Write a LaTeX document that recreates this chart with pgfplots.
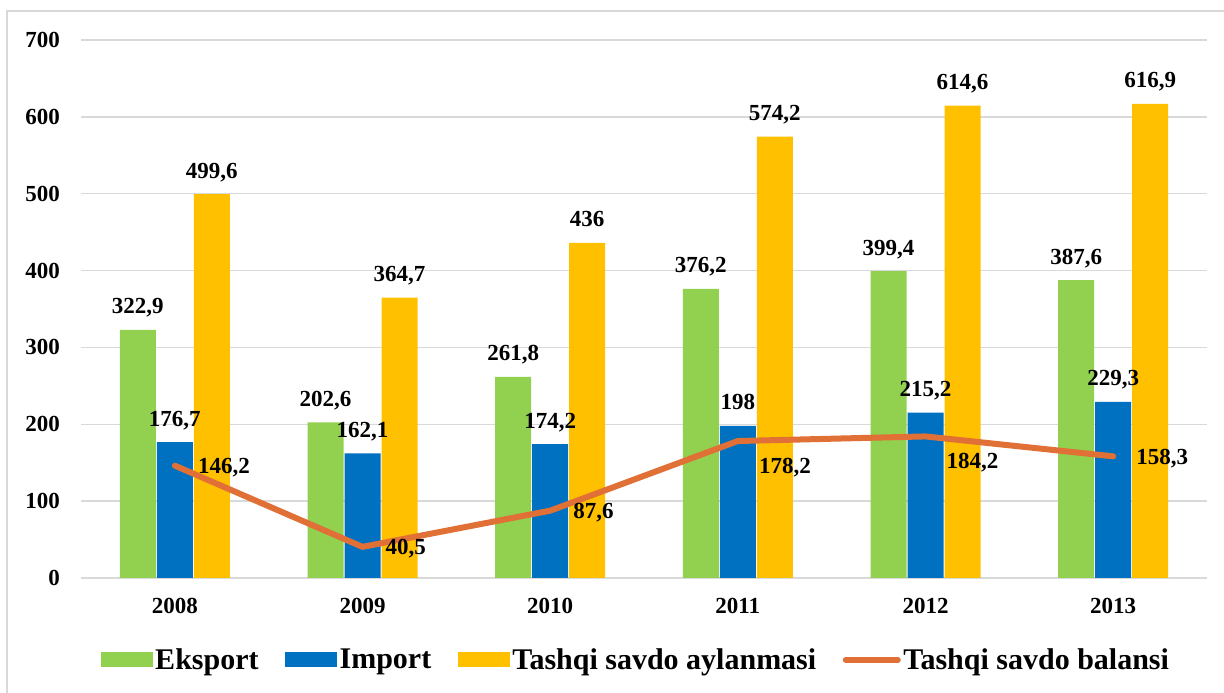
\documentclass[border=0pt]{standalone}
\usepackage{fontspec}
\setmainfont{Liberation Serif}
\usepackage{pgfplots}
\pgfplotsset{compat=1.18}
\definecolor{cgreen}{HTML}{92D050}
\definecolor{cblue}{HTML}{0070C0}
\definecolor{cyellow}{HTML}{FFC000}
\definecolor{corange}{HTML}{E07036}
\definecolor{cgrid}{HTML}{D9D9D9}
\begin{document}
\begin{tikzpicture}[x=1bp,y=1bp]
\useasboundingbox (0,0) rectangle (1224,693);
\draw[cgrid, line width=1.5bp] (7,0) -- (7,682) -- (1224,682);
\begin{axis}[
  at={(81bp,115bp)}, anchor=south west,
  width=1126bp, height=538bp, scale only axis,
  xmin=-0.5, xmax=5.5, ymin=0, ymax=700,
  xtick={0,1,2,3,4,5}, xticklabels={2008,2009,2010,2011,2012,2013},
  ytick={0,100,...,700},
  axis line style={draw=none},
  ymajorgrids, grid style={cgrid, line width=1.5bp},
  major tick length=0pt,
  /pgf/number format/.cd, use comma, fixed, precision=1, assume math mode=true, 1000 sep={},
  /pgfplots/.cd,
  tick label style={font=\fontsize{23bp}{27bp}\selectfont\bfseries},
  yticklabel style={anchor=east, inner sep=0pt, xshift=-21bp},
  xticklabel style={anchor=north, inner sep=0pt, yshift=-20bp},
  legend columns=4,
  legend style={at={(0.493,-0.152)}, anchor=center, draw=none, fill=none,
    font=\fontsize{30bp}{35bp}\selectfont\bfseries,
    /tikz/every even column/.append style={column sep=24bp},
    nodes={inner sep=2.5bp}},
  legend cell align=left,
]
\addplot[ybar, bar width=36bp, bar shift=-37bp, fill=cgreen, draw=none,
  nodes near coords,
  nodes near coords style={font=\fontsize{23bp}{27bp}\selectfont\bfseries, anchor=base, inner sep=0pt, xshift=-37bp, yshift=16bp, text=black},
  legend image code/.code={\fill[cgreen] (0bp,-7.5bp) rectangle (52bp,7.5bp);}]
  coordinates {(0,322.9) (1,202.6) (2,261.8) (3,376.2) (4,399.4) (5,387.6)};
\addlegendentry{Eksport}
\addplot[ybar, bar width=36bp, bar shift=0bp, fill=cblue, draw=none,
  nodes near coords,
  nodes near coords style={font=\fontsize{23bp}{27bp}\selectfont\bfseries, anchor=base, inner sep=0pt, yshift=16bp, text=black},
  legend image code/.code={\fill[cblue] (0bp,-7.5bp) rectangle (52bp,7.5bp);}]
  coordinates {(0,176.7) (1,162.1) (2,174.2) (3,198) (4,215.2) (5,229.3)};
\addlegendentry{Import}
\addplot[ybar, bar width=36bp, bar shift=37bp, fill=cyellow, draw=none,
  nodes near coords,
  nodes near coords style={font=\fontsize{23bp}{27bp}\selectfont\bfseries, anchor=base, inner sep=0pt, xshift=37bp, yshift=16bp, text=black},
  legend image code/.code={\fill[cyellow] (0bp,-7.5bp) rectangle (52bp,7.5bp);}]
  coordinates {(0,499.6) (1,364.7) (2,436) (3,574.2) (4,614.6) (5,616.9)};
\addlegendentry{Tashqi savdo aylanmasi}
\addplot[corange, line width=6bp, line cap=round, line join=round, mark=none,
  legend image code/.code={\draw[corange, line width=6bp, line cap=round] (3bp,0bp) -- (55bp,0bp);}]
  coordinates {(0,146.2) (1,40.5) (2,87.6) (3,178.2) (4,184.2) (5,158.3)};
\addlegendentry{Tashqi savdo balansi}
\addplot[draw=none, mark=none, forget plot, nodes near coords,
  nodes near coords style={font=\fontsize{23bp}{27bp}\selectfont\bfseries, anchor=base west, inner sep=0pt, xshift=23bp, yshift=-8bp, text=black}]
  coordinates {(0,146.2) (1,40.5) (2,87.6) (5,158.3)};
\addplot[draw=none, mark=none, forget plot, nodes near coords,
  nodes near coords style={font=\fontsize{23bp}{27bp}\selectfont\bfseries, anchor=base west, inner sep=0pt, xshift=21bp, yshift=-32bp, text=black}]
  coordinates {(3,178.2) (4,184.2)};
\end{axis}
\end{tikzpicture}
\end{document}
